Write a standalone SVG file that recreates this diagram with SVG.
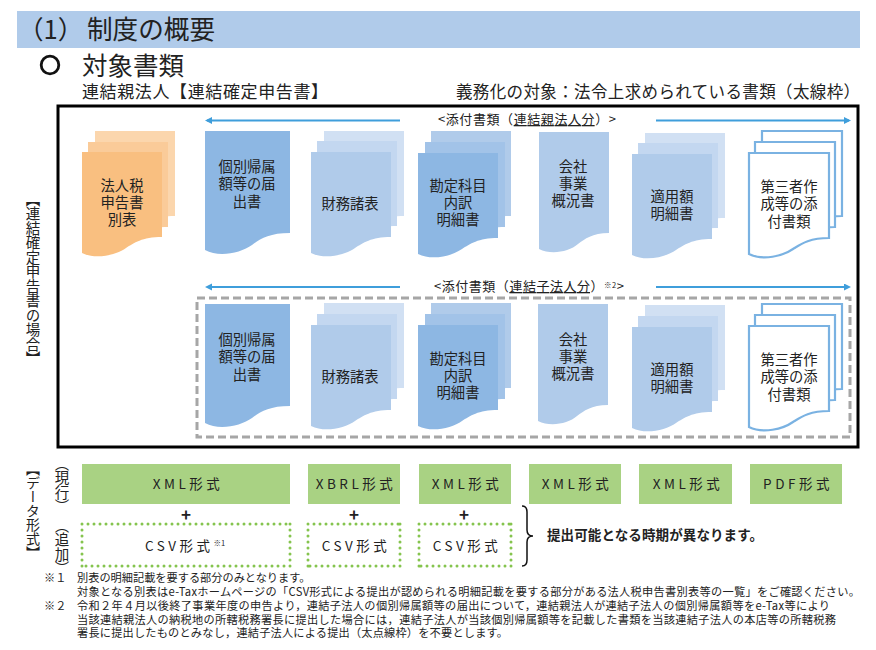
<svg xmlns="http://www.w3.org/2000/svg" width="876" height="650" viewBox="0 0 876 650">
<style>
text{font-family:"Noto Sans CJK JP","Noto Sans",sans-serif;fill:#222}
.l{font-size:14.3px;text-anchor:middle}
.f{font-size:13.5px;text-anchor:middle;letter-spacing:3.5px}
.n{font-size:11.2px}
.v{font-size:14.5px;writing-mode:vertical-rl}
.o1{fill:#f9bf80}.o2{fill:#facb99}.o3{fill:#fbd6ad}
.b1{fill:#8db7e3}.b2{fill:#a2c3e8}
.c1{fill:#b0cbea}.c2{fill:#c3d7f0}.c3{fill:#d1e0f3}
.w{fill:#fff;stroke:#7ab2e2;stroke-width:2.2}
.g{fill:#a9d283}
.d{fill:none;stroke:#85c44e;stroke-width:3;stroke-dasharray:0 6;stroke-linecap:round}
.a{stroke:#3f9edb;stroke-width:2;fill:none;marker-end:url(#ah)}
.p{font-size:17px;font-weight:bold;text-anchor:middle}
</style>
<defs>
<marker id="ah" markerUnits="userSpaceOnUse" markerWidth="8" markerHeight="8" refX="5" refY="3.500" orient="auto"><path d="M0 0L7 3.500L0 7Z" fill="#3f9edb"/></marker>
<path id="d80" d="M0 0H80V85C60 85 52 91 44 96C34 103 14 108 0 101Z"/>
<path id="d85" d="M0 0H85V102C64 102 55 108 47 114C36 122 14 127 0 119Z"/>
<path id="d70" d="M0 0H70V101C53 101 46 107 39 112C30 120 12 123 0 117Z"/>
</defs>
<rect width="876" height="650" fill="#fff"/>
<g id="header"><rect x="17" y="11" width="843" height="37" fill="#b0cbea"/>
<text x="18" y="39" font-size="25.600">（1）<tspan x="87">制度の概要</tspan></text></g>
<g id="titles">
<circle cx="50" cy="65" r="8.800" fill="none" stroke="#111" stroke-width="2.800"/>
<text x="82" y="75" font-size="25.500" textLength="102">対象書類</text>
<text x="82" y="98" font-size="17" textLength="246">連結親法人【連結確定申告書】</text>
<text x="456" y="98" font-size="16.500" textLength="404">義務化の対象：法令上求められている書類（太線枠）</text>
</g>
<rect id="frame" x="58" y="106" width="800" height="341" fill="none" stroke="#000" stroke-width="3"/>
<rect id="dashframe" x="197" y="298" width="653" height="139" fill="none" stroke="#a6a6a6" stroke-width="3" stroke-dasharray="8 4"/>
<g id="connectors">
<path class="a" d="M400 120.500H207"/><path class="a" d="M656 120.500H849"/>
<path class="a" d="M400 287H207"/><path class="a" d="M656 287H849"/>
<path id="brace" d="M522 506Q527 506 527 512V530Q527 536 533 536Q527 536 527 542V560Q527 566 522 566" fill="none" stroke="#111" stroke-width="1.500"/>
</g>
<g id="n-hojinzei"><use href="#d80" x="95" y="131" class="o3"/><use href="#d80" x="88" y="142" class="o2"/><use href="#d80" x="82" y="152" class="o1"/>
<text class="l" x="122" y="191">法人税</text><text class="l" x="122" y="208">申告書</text><text class="l" x="122" y="225">別表</text></g>
<g id="n-kobetsu1"><use href="#d85" x="205" y="131" class="b1"/>
<text class="l" x="247" y="172">個別帰属</text><text class="l" x="247" y="189">額等の届</text><text class="l" x="247" y="207">出書</text></g>
<g id="n-zaimu1"><use href="#d80" x="324" y="131" class="c3"/><use href="#d80" x="317" y="141" class="c2"/><use href="#d80" x="311" y="152" class="c1"/>
<text class="l" x="350" y="209">財務諸表</text></g>
<g id="n-kanjo1"><use href="#d80" x="431" y="131" class="c1"/><use href="#d80" x="425" y="142" class="b2"/><use href="#d80" x="418" y="153" class="b1"/>
<text class="l" x="458" y="191">勘定科目</text><text class="l" x="458" y="208">内訳</text><text class="l" x="458" y="225">明細書</text></g>
<g id="n-kaisha1"><use href="#d70" x="539" y="132" class="c1"/>
<text class="l" x="573" y="172">会社</text><text class="l" x="573" y="189">事業</text><text class="l" x="573" y="206">概況書</text></g>
<g id="n-tekiyo1"><use href="#d80" x="645" y="133" class="c3"/><use href="#d80" x="638" y="143" class="c2"/><use href="#d80" x="632" y="154" class="c1"/>
<text class="l" x="672" y="202">適用額</text><text class="l" x="672" y="219">明細書</text></g>
<g id="n-daisan1"><use href="#d80" x="762" y="131" class="w"/><use href="#d80" x="755" y="142" class="w"/><use href="#d80" x="749" y="153" class="w"/>
<text class="l" x="789" y="192">第三者作</text><text class="l" x="789" y="209">成等の添</text><text class="l" x="789" y="227">付書類</text></g>
<g id="label1"><text x="438" y="124" font-size="13" textLength="178">&lt;添付書類（<tspan text-decoration="underline">連結親法人分</tspan>）&gt;</text></g>
<g id="label2"><text x="434" y="291" font-size="13" textLength="190">&lt;添付書類（<tspan text-decoration="underline">連結子法人分</tspan>）<tspan font-size="7.500" dy="-3">※2</tspan><tspan dy="3">&gt;</tspan></text></g>
<g id="n-kobetsu2"><use href="#d85" x="205" y="304" class="b1"/>
<text class="l" x="247" y="345">個別帰属</text><text class="l" x="247" y="362">額等の届</text><text class="l" x="247" y="380">出書</text></g>
<g id="n-zaimu2"><use href="#d80" x="324" y="303" class="c3"/><use href="#d80" x="317" y="314" class="c2"/><use href="#d80" x="311" y="325" class="c1"/>
<text class="l" x="350" y="382">財務諸表</text></g>
<g id="n-kanjo2"><use href="#d80" x="431" y="303" class="c1"/><use href="#d80" x="425" y="314" class="b2"/><use href="#d80" x="418" y="325" class="b1"/>
<text class="l" x="458" y="364">勘定科目</text><text class="l" x="458" y="381">内訳</text><text class="l" x="458" y="398">明細書</text></g>
<g id="n-kaisha2"><use href="#d70" x="538" y="304" class="c1"/>
<text class="l" x="573" y="345">会社</text><text class="l" x="573" y="362">事業</text><text class="l" x="573" y="379">概況書</text></g>
<g id="n-tekiyo2"><use href="#d80" x="645" y="305" class="c3"/><use href="#d80" x="638" y="316" class="c2"/><use href="#d80" x="632" y="327" class="c1"/>
<text class="l" x="672" y="375">適用額</text><text class="l" x="672" y="392">明細書</text></g>
<g id="n-daisan2"><use href="#d80" x="762" y="304" class="w"/><use href="#d80" x="755" y="315" class="w"/><use href="#d80" x="749" y="326" class="w"/>
<text class="l" x="789" y="365">第三者作</text><text class="l" x="789" y="382">成等の添</text><text class="l" x="789" y="400">付書類</text></g>
<g id="sidelabels">
<text class="v" x="33" y="192">【連結確定申告書の場合】</text>
<text class="v" x="33" y="462" style="font-size:14px">【データ形式】</text>
<text class="v" x="62" y="456">（現行）</text>
<text class="v" x="62" y="518">（追加）</text>
</g>
<g id="f1"><rect class="g" x="82" y="464" width="208" height="40"/><text class="f" x="188" y="489">XML形式</text></g>
<g id="f2"><rect class="g" x="308" y="464" width="92" height="40"/><text class="f" x="356" y="489">XBRL形式</text></g>
<g id="f3"><rect class="g" x="419" y="464" width="92" height="40"/><text class="f" x="467" y="489">XML形式</text></g>
<g id="f4"><rect class="g" x="529" y="464" width="92" height="40"/><text class="f" x="577" y="489">XML形式</text></g>
<g id="f5"><rect class="g" x="639" y="464" width="93" height="40"/><text class="f" x="688" y="489">XML形式</text></g>
<g id="f6"><rect class="g" x="750" y="464" width="92" height="40"/><text class="f" x="798" y="489">PDF形式</text></g>
<g id="plus"><text class="p" x="186" y="521">+</text><text class="p" x="354" y="521">+</text><text class="p" x="464" y="521">+</text></g>
<g id="c1"><path class="d" d="M82 524H290M290 524V566M290 566H82M82 566V524"/><text x="145" y="551" font-size="13.500" letter-spacing="3.500">CSV形式<tspan font-size="7.500" dy="-5" letter-spacing="0">※1</tspan></text></g>
<g id="c2"><path class="d" d="M308 524H400M400 524V566M400 566H308M308 566V524"/><text class="f" x="356" y="551">CSV形式</text></g>
<g id="c3"><path class="d" d="M419 524H511M511 524V566M511 566H419M419 566V524"/><text class="f" x="467" y="551">CSV形式</text></g>
<text id="brace-label" x="547" y="540" font-size="13.500" font-weight="bold" textLength="216">提出可能となる時期が異なります。</text>
<g id="notes">
<text class="n" x="44" y="582">※１</text><text class="n" x="77" y="582">別表の明細記載を要する部分のみとなります。</text>
<text class="n" x="77" y="596" textLength="783">対象となる別表はe-Taxホームページの「CSV形式による提出が認められる明細記載を要する部分がある法人税申告書別表等の一覧」をご確認ください。</text>
<text class="n" x="44" y="610">※２</text><text class="n" x="77" y="610" textLength="753">令和２年４月以後終了事業年度の申告より，連結子法人の個別帰属額等の届出について，連結親法人が連結子法人の個別帰属額等をe-Tax等により</text>
<text class="n" x="77" y="624" textLength="759">当該連結親法人の納税地の所轄税務署長に提出した場合には，連結子法人が当該個別帰属額等を記載した書類を当該連結子法人の本店等の所轄税務</text>
<text class="n" x="77" y="637" textLength="431">署長に提出したものとみなし，連結子法人による提出（太点線枠）を不要とします。</text>
</g>
</svg>
